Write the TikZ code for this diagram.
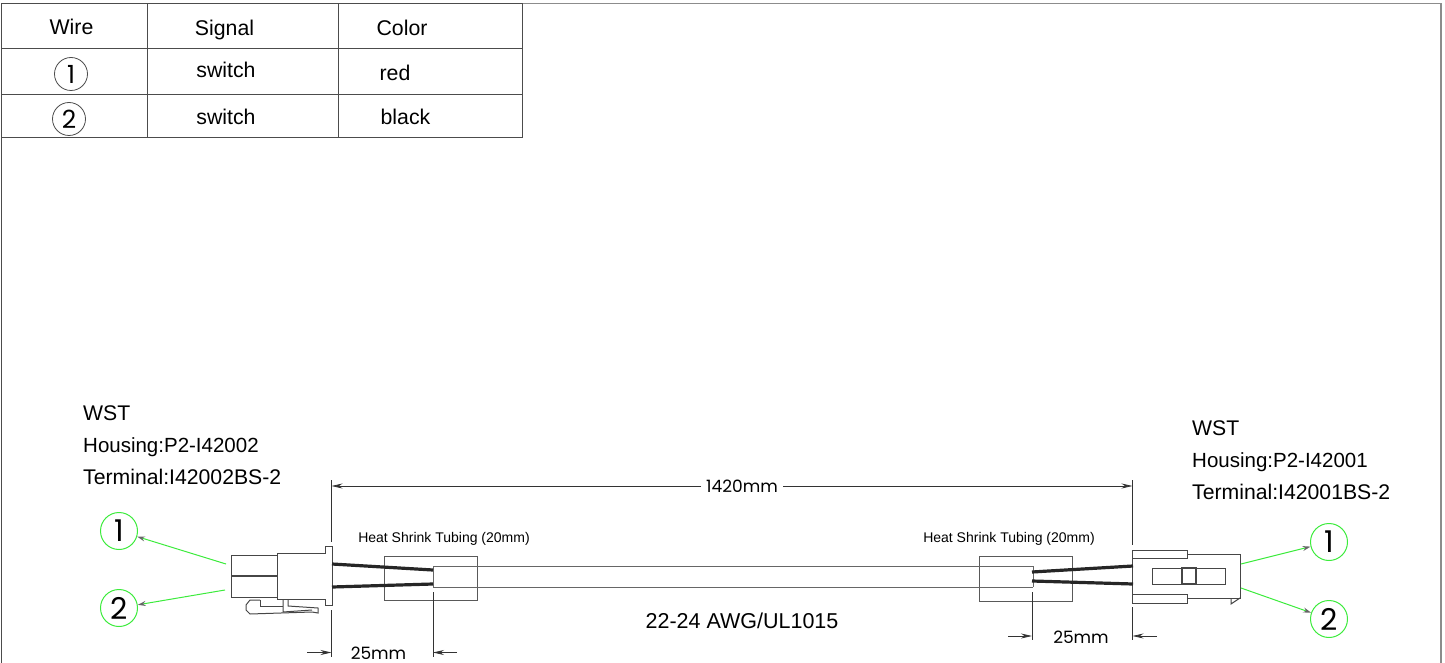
\documentclass[tikz,border=0pt]{standalone}
\usepackage{fontspec}
\usepackage{tikz}
\usetikzlibrary{arrows.meta}
\setmainfont{Liberation Sans}
\newfontfamily\dimfont{Poppins}
\definecolor{balloongreen}{RGB}{60,235,60}
\definecolor{partgray}{RGB}{70,70,70}
\newcommand{\px}[1]{\fontsize{#1}{#1}\selectfont}
\tikzset{
  part/.style={draw=partgray,line width=1pt},
  cable/.style={draw=black!85,line width=3.2pt},
  grid/.style={draw=black!70,line width=1pt},
  cell/.style={inner sep=0pt,font=\px{21.3}},
  note/.style={inner sep=0pt,anchor=west,font=\px{21.2}},
  heat/.style={inner sep=0pt,font=\px{14}},
  dimtext/.style={inner sep=0pt,font=\dimfont\px{17}},
  dim/.style={draw=black!80,line width=0.8pt,-{Stealth[length=11pt,width=5pt]}},
  ext/.style={draw=black!80,line width=1pt},
  ring/.style={circle,draw=black!70,line width=0.8pt,minimum size=33pt,inner sep=0pt,font=\dimfont\px{25}},
  balloon/.style={circle,draw=balloongreen,line width=1pt,minimum size=37pt,inner sep=0pt,font=\dimfont\px{30}},
  leader/.style={draw=balloongreen,line width=1pt,-{Stealth[length=8pt,width=5pt,open,black!60]}}
}
\begin{document}
\begin{tikzpicture}[x=1pt,y=-1pt]
\useasboundingbox (0,0) rectangle (1445,663);
% table
\draw [grid] (1.5,663) -- (1.5,3.5) -- (522.5,3.5) -- (522.5,137.5) -- (1.5,137.5);
\draw [draw=black!45,line width=1.2pt] (522.5,3.5) -- (1441,3.5) -- (1441,663);
\draw [grid] (1.5,48.5) -- (522.5,48.5);
\draw [grid] (1.5,94.5) -- (522.5,94.5);
\draw [grid] (147.5,3.5) -- (147.5,137.5);
\draw [grid] (338.5,3.5) -- (338.5,137.5);
\node [cell] (headwire) at (71.5,27) {Wire};
\node [cell] (headsignal) at (224.5,30) {Signal};
\node [cell] (headcolor) at (402,28) {Color};
\node [ring] (rowone) at (71,74) {1};
\node [cell] (signalone) at (226,70) {switch};
\node [cell] (colorone) at (395,73) {red};
\node [ring] (rowtwo) at (69,119) {2};
\node [cell] (signaltwo) at (226,117) {switch};
\node [cell] (colortwo) at (405.5,117) {black};
% connector labels
\node [note] (wstleft) at (83,413.5) {WST};
\node [note,font=\px{20.5}] (housingleft) at (83,447) {Housing:P2-I42002};
\node [note] (terminalleft) at (83,477) {Terminal:I42002BS-2};
\node [note] (wstright) at (1192,428.5) {WST};
\node [note,font=\px{20.5}] (housingright) at (1192,462) {Housing:P2-I42001};
\node [note] (terminalright) at (1192,492) {Terminal:I42001BS-2};
\node [heat] (heatleft) at (444,539) {Heat Shrink Tubing (20mm)};
\node [heat] (heatright) at (1009,539) {Heat Shrink Tubing (20mm)};
\node [inner sep=0pt,font=\px{21.5}] (gauge) at (742,621) {22-24 AWG/UL1015};
% left connector
\draw [part] (231,555) rectangle (277,597);
\draw [part,line width=1.4pt] (231,576) -- (277,576);
\draw [part] (277,553) -- (325,553) -- (325,546) -- (332,546) -- (332,605) -- (325,605) -- (325,599) -- (277,599) -- cycle;
\draw [part] (260,600) -- (250,600) -- (246,605) -- (246,610) -- (250,614) -- (312,612) -- (318,613) -- (318,608) -- (288,606) -- (288,599);
\draw [part] (260,600) -- (260,606) -- (283,606);
\draw [part] (283,599) -- (283,612) -- (312,610);
% right connector
\draw [part] (1132,550) rectangle (1187,558);
\draw [part] (1132,594) rectangle (1187,603);
\draw [part] (1187,554) -- (1240,554) -- (1240,598) -- (1187,598);
\draw [part] (1132,558) -- (1132,594);
\draw [part] (1152,568) rectangle (1225,584);
\draw [part,line width=1.4pt] (1182,568) rectangle (1196,584);
\draw [part] (1231,598) -- (1231,604) -- (1240,598);
% tubing and wires
\draw [part,draw=black!65] (384,556) rectangle (477,600);
\draw [part,draw=black!65] (979,556) rectangle (1072,601);
\draw [part,draw=black!60] (433,566) -- (1033,566);
\draw [part,draw=black!60] (433,587) -- (1033,587);
\draw [part,draw=black!60] (433,566) -- (433,587);
\draw [part,draw=black!60] (1033,566) -- (1033,587);
\draw [cable] (332,564) -- (433,570);
\draw [cable] (332,587) -- (433,584);
\draw [cable] (1032,572) -- (1133,566);
\draw [cable] (1032,581) -- (1133,584);
% dimensions
\coordinate (extleft) at (331.5,480);
\coordinate (extright) at (1132.5,480);
\coordinate (lenlefttop) at (331.5,486);
\coordinate (lenrighttop) at (1132.5,486);
\node [dimtext,fill=white,inner xsep=5pt] (length) at (742,486) {1420mm};
\draw [ext] (extleft) -- (331.5,542);
\draw [ext] (extright) -- (1132.5,545);
\draw [dim] (length) -- (lenlefttop);
\draw [dim] (length) -- (lenrighttop);
\draw [ext] (331.5,610) -- (331.5,657);
\draw [ext] (433,592) -- (433,657);
\draw [ext] (1032,592) -- (1032,640);
\draw [ext] (1132.5,607) -- (1132.5,640);
\coordinate (farone) at (307,652.5);
\coordinate (nearone) at (331.5,652.5);
\coordinate (fartwo) at (457,652.5);
\coordinate (neartwo) at (433,652.5);
\coordinate (farthree) at (1008,636);
\coordinate (nearthree) at (1032,636);
\coordinate (farfour) at (1157,636);
\coordinate (nearfour) at (1132.5,636);
\draw [dim] (farone) -- (nearone);
\draw [dim] (fartwo) -- (neartwo);
\draw [dim] (farthree) -- (nearthree);
\draw [dim] (farfour) -- (nearfour);
\node [dimtext] (shortleft) at (378.5,653) {25mm};
\node [dimtext] (shortright) at (1081,637) {25mm};
% balloons
\node [balloon] (ballleftone) at (119,531) {1};
\node [balloon] (balllefttwo) at (119,608) {2};
\node [balloon] (ballrightone) at (1329,542) {1};
\node [balloon] (ballrighttwo) at (1329,619) {2};
\coordinate (tipleftone) at (226,564);
\coordinate (tiplefttwo) at (225,590);
\coordinate (tiprightone) at (1241,564);
\coordinate (tiprighttwo) at (1241,588);
\draw [leader] (tipleftone) -- (ballleftone);
\draw [leader] (tiplefttwo) -- (balllefttwo);
\draw [leader] (tiprightone) -- (ballrightone);
\draw [leader] (tiprighttwo) -- (ballrighttwo);
\end{tikzpicture}
\end{document}
